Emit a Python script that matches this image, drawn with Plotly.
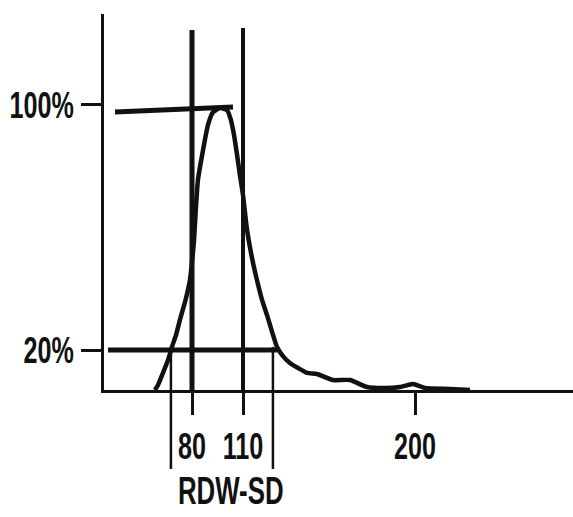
import plotly.graph_objects as go

# Histogram curve (x in channel units labelled 80/110/200, y in relative frequency units)
curve_x = [58.2, 60.0, 62.9, 65.9, 68.2, 70.6, 72.9, 76.5, 78.8, 80.0, 81.2, 82.4, 83.5, 86.5, 89.4,
           92.4, 96.5, 100.6, 102.9, 104.7, 106.5, 108.2, 110.0, 112.4, 115.3, 118.2, 121.2, 124.1,
           127.1, 130.0, 133.5, 137.6, 142.4, 147.6, 153.5, 162.9, 172.9, 182.9, 193.5, 202.4, 210.0,
           217.1, 231.8, 243.5]
curve_y = [0, 1.75, 5.96, 10.5, 15.1, 19.3, 24.6, 32.3, 38.6, 44.9, 52.6, 64.9, 73.7, 84.2, 93.0,
           97.5, 98.9, 98.2, 94.7, 89.5, 82.5, 75.4, 68.4, 56.1, 46.3, 38.6, 31.6, 26.3, 20.4, 15.1,
           11.9, 9.5, 7.7, 6.0, 5.6, 3.5, 3.5, 1.05, 0.7, 1.05, 2.1, 0.7, 0.35, 0]

# Discriminator lines at 80 and 110
marker_x = [80, 110]
marker_top = [126.3, 127.0]

# Level lines (100% and 20%)
level_100_x = [34.7, 104.1]
level_100_y = [97.5, 99.3]
level_20_x = [30.6, 130.0]
level_20_y = [14.0, 14.0]

# RDW-SD bracket bounds
rdw_x = [67.6, 127.6]
rdw_top = 15.1
rdw_label = "RDW-SD"
rdw_label_x = 102.5

x_tick_vals = [80, 110, 211.2]
x_tick_text = ["80", "110", "200"]
y_tick_vals = [100, 14]
y_tick_text = ["100%", "20%"]

x_range = [28.24, 304.1]
y_range = [0, 131.9]

INK = "#111111"
FONT = dict(family="Liberation Sans, Arial, sans-serif", size=37, color=INK, weight="bold")
LABEL_FONT = dict(family="Liberation Sans, Arial, sans-serif", size=38, color=INK, weight="bold")

fig = go.Figure()

fig.add_trace(go.Scatter(x=curve_x, y=curve_y, mode="lines",
                         line=dict(color=INK, width=4.5, shape="spline", smoothing=0.5),
                         hoverinfo="skip", showlegend=False))
for mx, mt, w in zip(marker_x, marker_top, [5, 4]):
    fig.add_trace(go.Scatter(x=[mx, mx], y=[0, mt], mode="lines",
                             line=dict(color=INK, width=w), hoverinfo="skip", showlegend=False))
fig.add_trace(go.Scatter(x=level_100_x, y=level_100_y, mode="lines",
                         line=dict(color=INK, width=5), hoverinfo="skip", showlegend=False))
fig.add_trace(go.Scatter(x=level_20_x, y=level_20_y, mode="lines",
                         line=dict(color=INK, width=5), hoverinfo="skip", showlegend=False))

top_paper = rdw_top / (y_range[1] - y_range[0])
for rx in rdw_x:
    fig.add_shape(type="line", xref="x", yref="paper", x0=rx, x1=rx, y0=-0.21, y1=top_paper,
                  line=dict(color=INK, width=2.5), layer="above")

fig.add_annotation(x=rdw_label_x, xref="x", y=-0.268, yref="paper", text=rdw_label,
                   showarrow=False, font=LABEL_FONT, yanchor="middle")

fig.update_xaxes(range=x_range, showline=True, linewidth=3, linecolor=INK, showgrid=False,
                 zeroline=False, ticks="outside", ticklen=22, tickwidth=2.5, tickcolor=INK,
                 tickvals=x_tick_vals, ticktext=x_tick_text, tickfont=FONT,
                 tickangle=0, automargin=False)
fig.update_yaxes(range=y_range, showline=True, linewidth=2.5, linecolor=INK, showgrid=False,
                 zeroline=False, ticks="outside", ticklen=20, tickwidth=2.5, tickcolor=INK,
                 tickvals=y_tick_vals, ticktext=y_tick_text, tickfont=FONT,
                 tickangle=0, automargin=False)

fig.update_layout(width=573, height=517, margin=dict(l=104, r=0, t=14, b=127, autoexpand=False),
                  paper_bgcolor="white", plot_bgcolor="white", showlegend=False)

post = """
document.body.style.margin='0';
var gd = document.getElementById('{plot_id}');
gd.querySelectorAll('.xtick text, .ytick text, .annotation-text').forEach(function(t){
  var b = t.getBBox();
  var a = t.getAttribute('text-anchor') || 'middle';
  var cx = a==='end' ? b.x+b.width : (a==='start' ? b.x : b.x+b.width/2);
  var prev = t.getAttribute('transform') || '';
  t.setAttribute('transform', prev + ' translate('+cx+',0) scale(0.68,1) translate('+(-cx)+',0)');
});
"""

fig.write_html("out.html", config={"displayModeBar": False, "responsive": False}, post_script=post)
